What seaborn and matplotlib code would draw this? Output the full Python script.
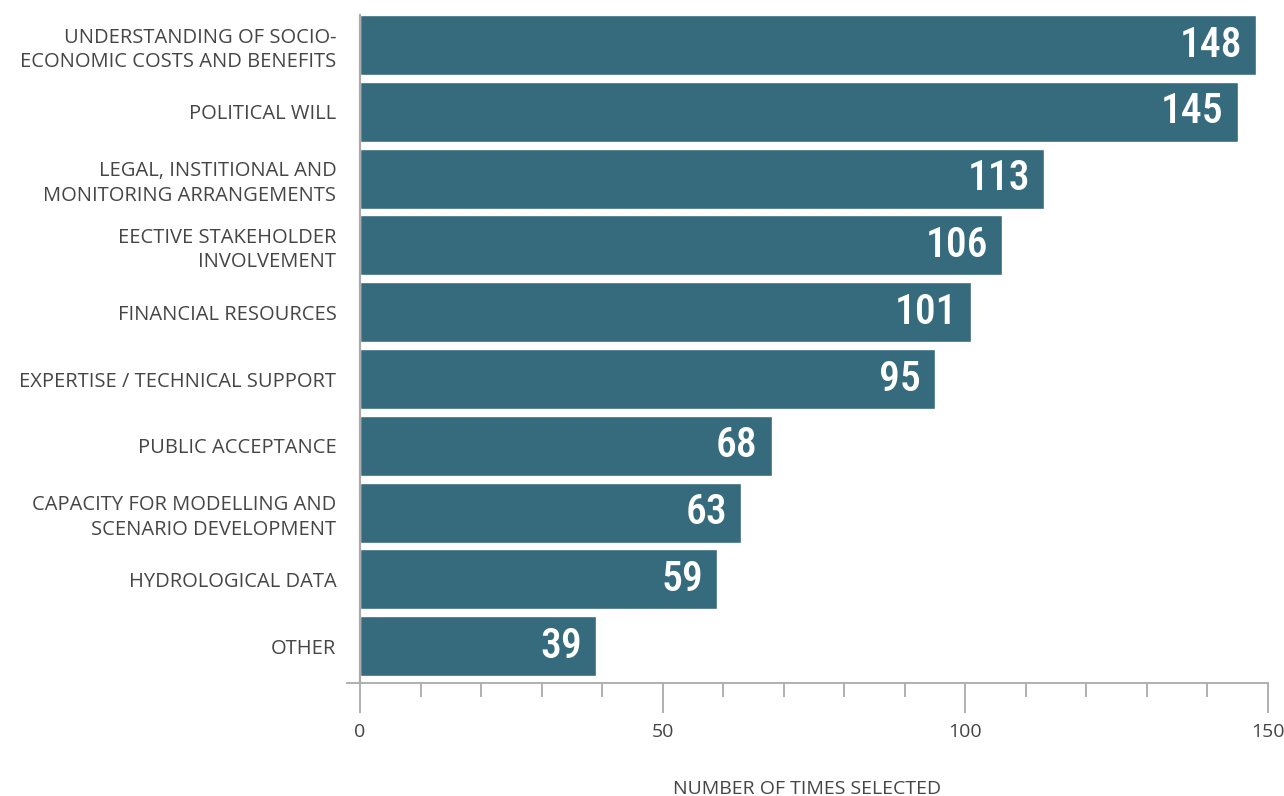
import pandas as pd
import matplotlib.pyplot as plt
import seaborn as sns
from matplotlib.ticker import MultipleLocator

# ==========================
# Data
# ==========================
categories = [
    "UNDERSTANDING OF SOCIO-\nECONOMIC COSTS AND BENEFITS",
    "POLITICAL WILL",
    "LEGAL, INSTITIONAL AND\nMONITORING ARRANGEMENTS",
    "EECTIVE STAKEHOLDER\nINVOLVEMENT",
    "FINANCIAL RESOURCES",
    "EXPERTISE / TECHNICAL SUPPORT",
    "PUBLIC ACCEPTANCE",
    "CAPACITY FOR MODELLING AND\nSCENARIO DEVELOPMENT",
    "HYDROLOGICAL DATA",
    "OTHER",
]
times_selected = [148, 145, 113, 106, 101, 95, 68, 63, 59, 39]

df = pd.DataFrame({"category": categories, "count": times_selected})

BAR = "#366b7e"
AXIS = "#aaaaaa"
TEXT = "#454545"

sns.set_style("white")
plt.rcParams["font.family"] = ["Open Sans", "DejaVu Sans"]

fig = plt.figure(figsize=(12.84, 7.96), dpi=100)
ax = fig.add_axes([0.2703, 0.1420, 0.7172, 0.8392])

sns.barplot(data=df, x="count", y="category", orient="h", color=BAR,
            saturation=1, width=0.9, order=categories, ax=ax)

ax.set_xlim(-2.15, 150)
ax.set_ylim(9.55, -0.45)

# spines
for s in ["top", "right"]:
    ax.spines[s].set_visible(False)
ax.spines["left"].set_position(("data", 0))
ax.spines["left"].set_color(AXIS)
ax.spines["left"].set_linewidth(1.6)
ax.spines["bottom"].set_color(AXIS)
ax.spines["bottom"].set_linewidth(1.3)

# ticks
ax.xaxis.set_major_locator(MultipleLocator(50))
ax.xaxis.set_minor_locator(MultipleLocator(10))
ax.tick_params(axis="x", which="both", bottom=True)
ax.tick_params(axis="x", which="major", length=21.6, width=1.3, color=AXIS,
               direction="out", pad=7, labelsize=14, labelcolor=TEXT)
ax.tick_params(axis="x", which="minor", length=10, width=1.3, color=AXIS,
               direction="out")
ax.tick_params(axis="y", length=0, pad=17, labelsize=14.5, labelcolor=TEXT)
for lbl in ax.get_yticklabels():
    lbl.set_linespacing(1.3)

ax.set_ylabel("")
ax.set_xlabel("NUMBER OF TIMES SELECTED", fontsize=14, color=TEXT, labelpad=28)

# value labels inside the bars
for i, v in enumerate(times_selected):
    ax.annotate(str(v), xy=(v, i), xytext=(-10, 0), textcoords="offset points",
                ha="right", va="center", color="white", fontsize=30,
                fontweight="medium",
                family=["Roboto Condensed", "Liberation Sans Narrow", "DejaVu Sans"])

fig.savefig("out.png", dpi=100)
